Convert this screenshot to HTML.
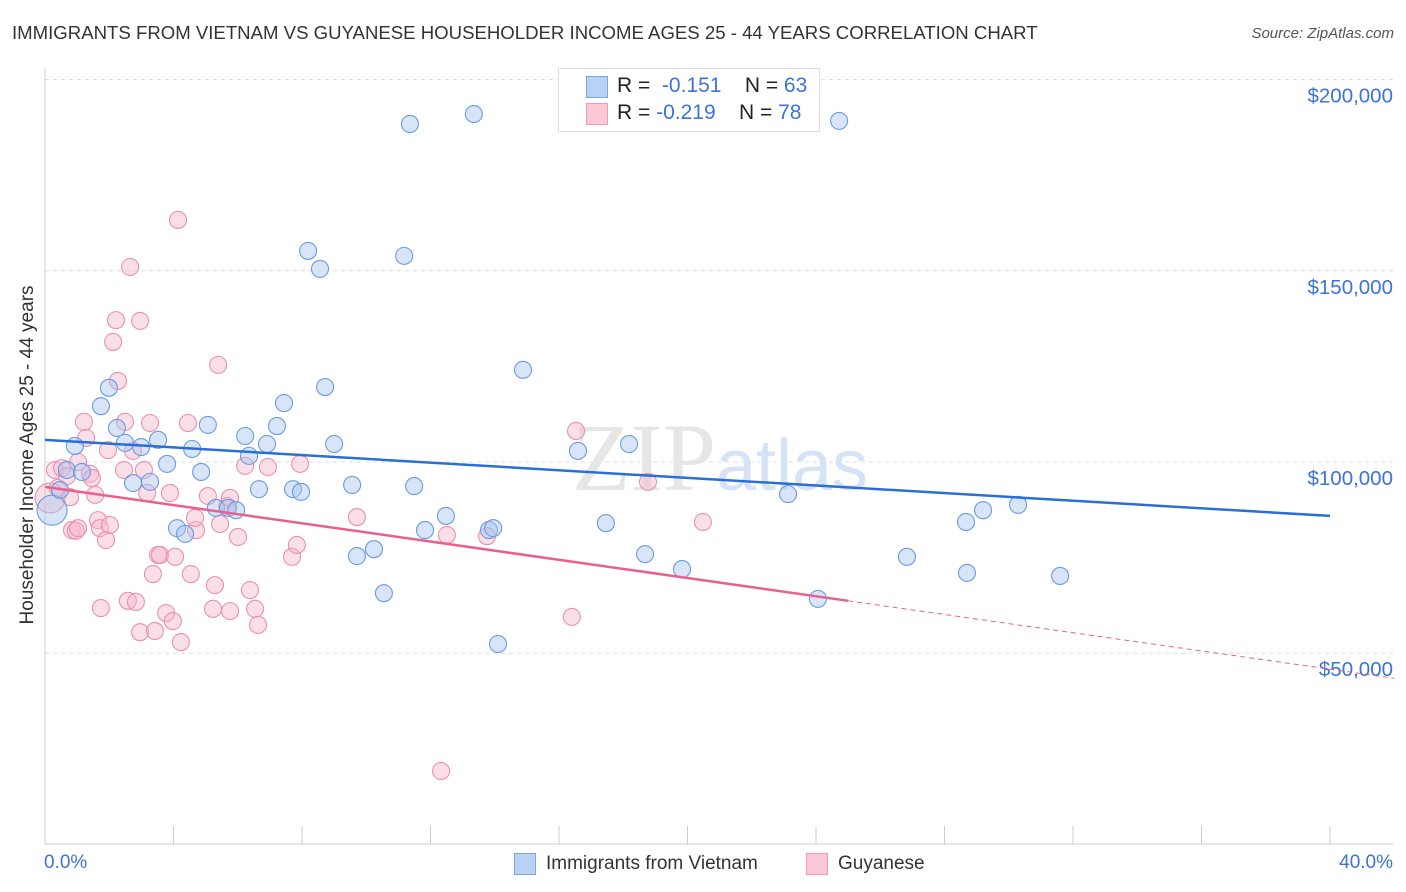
<!DOCTYPE html>
<html><head><meta charset="utf-8">
<style>
body{margin:0;background:#fff;font-family:"Liberation Sans",sans-serif;}
#wrap{position:relative;width:1406px;height:892px;overflow:hidden;}
.t{position:absolute;white-space:nowrap;}
</style></head>
<body>
<div id="wrap">
<div class="t" style="left:12px;top:22px;font-size:18.6px;color:#333">IMMIGRANTS FROM VIETNAM VS GUYANESE HOUSEHOLDER INCOME AGES 25 - 44 YEARS CORRELATION CHART</div>
<div class="t" style="right:12px;top:25px;font-size:15px;color:#555;font-style:italic">Source: ZipAtlas.com</div>
<svg id="svg" width="1406" height="892" style="position:absolute;left:0;top:0"></svg>
</div>
<script>
const xTicks=[0,4,8,12,16,20,24,28,32,36,40];
const yTicks=[50000,100000,150000,200000];
const yTickLabels=["$50,000","$100,000","$150,000","$200,000"];
const vietX=[0.22,0.47,0.68,0.93,1.15,1.74,1.99,2.24,2.49,2.74,2.99,3.27,3.52,3.80,4.11,4.36,4.58,4.86,5.07,5.32,5.70,5.95,6.23,6.35,6.66,6.91,7.22,7.44,7.72,7.97,8.19,8.56,8.72,9.00,9.56,9.71,10.24,10.55,11.18,11.36,11.49,11.83,12.48,13.35,13.82,13.95,14.10,14.88,16.59,17.46,18.18,18.68,19.83,23.13,24.06,24.72,26.83,28.67,28.70,29.20,30.29,31.60];
const vietY=[87400,92700,97900,104200,97400,114600,119400,108900,105000,94500,103900,94800,105800,99500,82700,81200,103400,97400,109700,88000,88000,87400,106800,101600,92900,104700,109400,115400,92900,92200,155200,150500,119600,104700,94000,75400,77200,65700,153900,188400,93700,82200,85900,191000,82200,82700,52400,124100,102900,84000,104700,75900,72000,91600,64200,189200,75200,84300,71000,87400,88800,70200];
const guyX=[0.16,0.31,0.40,0.53,0.68,0.78,0.84,0.96,1.03,1.21,1.28,1.40,1.46,1.56,1.65,1.71,1.74,1.90,1.96,2.02,2.12,2.21,2.27,2.46,2.49,2.58,2.65,2.74,2.83,2.96,2.96,3.08,3.18,3.27,3.36,3.42,3.52,3.58,3.77,3.89,3.98,4.05,4.14,4.23,4.45,4.54,4.70,5.07,5.23,5.29,5.45,5.67,5.76,6.01,6.23,6.38,6.54,6.63,6.94,7.69,7.84,7.94,9.71,12.51,12.33,13.76,16.40,16.53,18.77,20.48,5.39,5.76,4.67,1.03];
const guyY=[90600,97900,93200,98400,96300,90800,82200,82000,82700,110500,106300,96900,95800,91400,84800,82700,61800,79600,103100,83500,131400,137100,121200,97900,110500,63700,151000,102900,63400,136900,55500,97900,91900,110200,70700,55800,75700,75700,60500,91900,58400,75200,163300,52900,110200,70700,82200,91100,61600,67800,83800,88500,61000,80400,99000,66500,61600,57400,98700,75200,78300,99500,85600,80900,19200,80600,59500,108100,94800,84300,125400,90600,85400,100000];
const vietTrend=[105800,85900];
const guyTrend=[93500,63700];
const X=v=>45+v*32.125;
const Y=v=>462-(v-100000)*0.003824;
const svg=document.getElementById('svg');
const NS='http://www.w3.org/2000/svg';
function mk(tag,at){const e=document.createElementNS(NS,tag);for(const k in at)e.setAttribute(k,at[k]);svg.appendChild(e);return e;}
yTicks.forEach((v,i)=>{
 const g=mk('line',{x1:45,x2:1393,y1:Y(v),y2:Y(v),stroke:'#dcdcdc','stroke-dasharray':'4,4'});
 
 
 const t=mk('text',{x:1393,y:Y(v)+23,'text-anchor':'end','font-size':20.5,fill:'#3b73d8','font-family':'Liberation Sans'});
 t.textContent=yTickLabels[i];
 
 
});
mk('line',{x1:45,x2:45,y1:68,y2:844,stroke:'#ccc'});
const xa=mk('line',{x1:45,x2:1393,y1:844,y2:844,stroke:'#ccc'});


xTicks.forEach(v=>{
 const l=mk('line',{x1:X(v),x2:X(v),y1:826,y2:844,stroke:'#ccc'});
 
 
});
const wm=mk('text',{x:720,y:490,'text-anchor':'middle','font-size':96,fill:'#e6e6e6','font-family':'Liberation Serif'});
wm.innerHTML='ZIP<tspan font-family="Liberation Sans" font-size="72" fill="#d6e2f5">atlas</tspan>';


function pts(xs,ys,fill,stroke,name){
 xs.forEach((x,i)=>{
  const c=mk('circle',{cx:X(x),cy:Y(ys[i]),r:i==0?15:8.5,fill:fill,'fill-opacity':0.45,stroke:stroke,'stroke-width':1.1});
  
  
 });
}
pts(guyX,guyY,'#f7b8cb','#ec8fae','guyanese-point');
pts(vietX,vietY,'#a9c6ef','#6a9be0','vietnam-point');
const bl=mk('line',{x1:X(0),x2:X(40),y1:Y(vietTrend[0]),y2:Y(vietTrend[1]),stroke:'#2a6fd6','stroke-width':2.5});


const slope=(guyTrend[1]-guyTrend[0])/25;
const pl=mk('line',{x1:X(0),x2:X(25),y1:Y(guyTrend[0]),y2:Y(guyTrend[1]),stroke:'#e8608f','stroke-width':2.5});


const pd=mk('line',{x1:X(25),x2:X(42),y1:Y(guyTrend[1]),y2:Y(guyTrend[0]+slope*42),stroke:'#e8608f','stroke-width':1,'stroke-dasharray':'5,4'});


</script>
<div class="t" style="left:558px;top:68px;width:260px;height:62px;border:1px solid #ddd;background:#fff;font-size:21px;color:#222">
 <div style="position:absolute;left:27px;top:7px;width:20px;height:20px;background:#b9d2f3;border:1px solid #7aa6e4"></div>
 <div style="position:absolute;left:58px;top:5px">R = &nbsp;<span style="color:#3b73d8">-0.151</span>&nbsp;&nbsp;&nbsp; N = <span style="color:#3b73d8">63</span></div>
 <div style="position:absolute;left:27px;top:34px;width:20px;height:20px;background:#fbc8d6;border:1px solid #ef9bb6"></div>
 <div style="position:absolute;left:58px;top:32px">R = <span style="color:#3b73d8">-0.219</span>&nbsp;&nbsp;&nbsp; N = <span style="color:#3b73d8">78</span></div>
</div>
<div class="t" style="left:44px;top:852px;font-size:19px;color:#3b73d8">0.0%</div>
<div class="t" style="right:13px;top:852px;font-size:19px;color:#3b73d8">40.0%</div>
<div class="t" style="left:514px;top:853px;width:20px;height:20px;background:#b9d2f3;border:1px solid #7aa6e4"></div>
<div class="t" style="left:546px;top:853px;font-size:19px;color:#333">Immigrants from Vietnam</div>
<div class="t" style="left:806px;top:853px;width:20px;height:20px;background:#fbc8d6;border:1px solid #ef9bb6"></div>
<div class="t" style="left:838px;top:853px;font-size:19px;color:#333">Guyanese</div>
<div class="t" style="left:28px;top:455px;font-size:19px;color:#333;transform:translate(-50%,-50%) rotate(-90deg)">Householder Income Ages 25 - 44 years</div>
</body></html>
